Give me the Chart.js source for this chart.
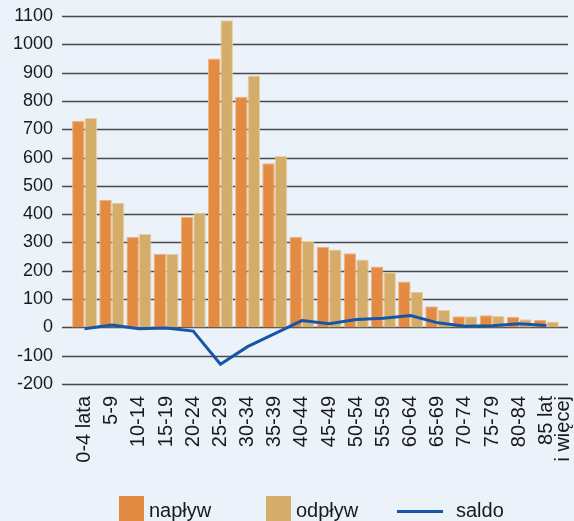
<!DOCTYPE html>
<html>
<head>
<meta charset="utf-8">
<script src="https://cdn.jsdelivr.net/npm/chart.js@4"></script>
<style>
  html, body { margin: 0; padding: 0; background: #ebf2fa; }
  #wrap { position: relative; width: 574px; height: 521px; overflow: hidden; }
  #legend { position: absolute; left: 0; top: 496px; font: 20px "Liberation Sans", Arial, sans-serif; color: #1a1a1a; }
  .item { position: absolute; top: 0; white-space: nowrap; }
  .sw { position: absolute; top: 0; width: 25px; height: 25px; }
  .ln { position: absolute; top: 14px; width: 46px; height: 3px; }
  .txt { position: absolute; top: 3px; }
</style>
</head>
<body>
<div id="wrap">
  <canvas id="c" width="574" height="521"></canvas>
  <div id="legend"></div>
</div>
<script>
// grupy wieku
var labels = ['0-4 lata', '5-9', '10-14', '15-19', '20-24', '25-29', '30-34', '35-39', '40-44',
  '45-49', '50-54', '55-59', '60-64', '65-69', '70-74', '75-79', '80-84', ['85 lat', 'i więcej']];

var naplyw = [730, 450, 320, 260, 390, 950, 815, 580, 320, 285, 262, 215, 162, 75, 39, 43, 38, 26];
var odplyw = [740, 440, 330, 260, 405, 1085, 890, 605, 305, 275, 240, 195, 126, 61, 39, 40, 29, 21];
var saldo = [-5, 8, -5, -2, -13, -130, -68, -22, 24, 13, 28, 32, 42, 16, 4, 6, 13, 7];

var yMin = -200, yMax = 1100, yStep = 100;

var cOrange = '#e38b43', cTan = '#d4ad6a', cBlue = '#1656a6';

var gridPlugin = {
  id: 'gridPlugin',
  beforeDatasetsDraw: function (chart) {
    var ctx = chart.ctx, a = chart.chartArea, y = chart.scales.y;
    ctx.save();
    ctx.strokeStyle = '#4a4a4a';
    ctx.lineWidth = 1.6;
    y.ticks.forEach(function (t) {
      var py = Math.round(y.getPixelForValue(t.value)) + 0.5;
      ctx.beginPath();
      ctx.moveTo(a.left - 9, py);
      ctx.lineTo(a.right + 8, py);
      ctx.stroke();
    });
    ctx.restore();
  }
};

function noPad(s) {
  s.paddingLeft = 0; s.paddingRight = 0; s.paddingTop = 0; s.paddingBottom = 0;
}

var chart = new Chart(document.getElementById('c'), {
  data: {
    labels: labels,
    datasets: [
      { type: 'line', label: 'saldo', data: saldo, borderColor: cBlue, borderWidth: 3,
        pointRadius: 0, tension: 0, order: 0 },
      { type: 'bar', label: 'napływ', data: naplyw, backgroundColor: cOrange,
        borderColor: '#f2b27e', borderWidth: 1, order: 1,
        categoryPercentage: 0.92, barPercentage: 1 },
      { type: 'bar', label: 'odpływ', data: odplyw, backgroundColor: cTan,
        borderColor: '#e8d0a2', borderWidth: 1, order: 1,
        categoryPercentage: 0.92, barPercentage: 1 }
    ]
  },
  options: {
    responsive: false,
    animation: false,
    layout: { padding: { top: 16, right: 14, left: 0, bottom: 0 } },
    plugins: { legend: { display: false }, tooltip: { enabled: false } },
    scales: {
      x: {
        grid: { display: false, drawTicks: false },
        border: { display: false },
        ticks: { minRotation: 90, maxRotation: 90, autoSkip: false, padding: 12,
          color: '#1a1a1a', font: { family: 'Liberation Sans', size: 20, lineHeight: 0.85 } },
        afterFit: function (s) { s.height = 137; noPad(s); }
      },
      y: {
        min: yMin, max: yMax,
        grid: { display: false, drawTicks: false },
        border: { display: false },
        ticks: { stepSize: yStep, padding: 18, color: '#1a1a1a',
          font: { family: 'Liberation Sans', size: 18 },
          callback: function (v) { return String(v); } },
        afterFit: function (s) { s.width = 71; noPad(s); }
      }
    }
  },
  plugins: [gridPlugin]
});

// legenda
var leg = document.getElementById('legend');
var items = [
  { ds: chart.data.datasets[1], left: 119 },
  { ds: chart.data.datasets[2], left: 266 },
  { ds: chart.data.datasets[0], left: 397 }
];
items.forEach(function (it) {
  var d = document.createElement('div');
  d.className = 'item';
  d.style.left = it.left + 'px';
  var mark = document.createElement('div');
  if (it.ds.type === 'line') {
    mark.className = 'ln';
    mark.style.background = it.ds.borderColor;
  } else {
    mark.className = 'sw';
    mark.style.background = it.ds.backgroundColor;
  }
  var t = document.createElement('div');
  t.className = 'txt';
  t.style.left = (it.ds.type === 'line' ? 59 : 30) + 'px';
  t.textContent = it.ds.label;
  d.appendChild(mark);
  d.appendChild(t);
  leg.appendChild(d);
});
</script>
</body>
</html>
